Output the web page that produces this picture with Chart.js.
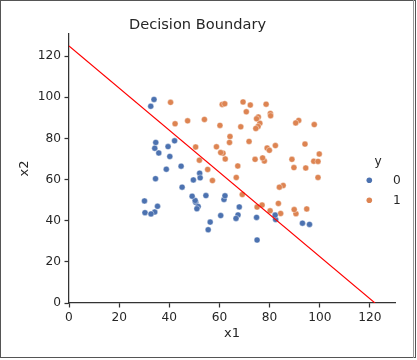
<!DOCTYPE html>
<html>
<head>
<meta charset="utf-8">
<script src="https://cdn.jsdelivr.net/npm/chart.js@4/dist/chart.umd.min.js"></script>
<style>
    html, body { margin: 0; padding: 0; background: #fff; }
    #wrap { position: relative; width: 417px; height: 360px; }
</style>
</head>
<body>
<div id="wrap"><canvas id="boundaryChart" width="417" height="360"></canvas></div>
<script>
// class 0 (not admitted)
const class0X = [34.6, 30.3, 35.8, 45.1, 95.9, 75.0, 39.5, 67.9, 67.4, 50.5,
    34.2, 93.1, 61.8, 38.8, 52.1, 40.2, 54.6, 33.9, 74.8, 34.2,
    51.5, 82.4, 51.0, 62.2, 34.5, 50.3, 49.6, 32.6, 35.3, 56.3,
    30.1, 44.7, 66.6, 49.1, 32.7, 60.5, 82.2, 42.1, 52.3, 55.5];
const class0Y = [78.0, 43.9, 72.9, 56.3, 38.2, 30.6, 76.0, 46.7, 42.8, 48.9,
    44.2, 38.8, 50.3, 65.0, 63.1, 71.2, 52.2, 98.9, 41.6, 75.2,
    46.9, 40.6, 45.8, 52.1, 60.4, 49.8, 59.8, 95.6, 47.0, 39.3,
    49.6, 66.5, 41.1, 51.9, 43.3, 42.5, 42.7, 78.8, 60.8, 35.6];

// class 1 (admitted)
const class1X = [60.2, 79.0, 61.1, 75.0, 76.1, 84.4, 82.3, 69.4, 54.0, 69.1,
    70.7, 77.0, 89.7, 77.9, 62.3, 80.2, 61.4, 85.4, 52.0, 64.2,
    83.9, 94.4, 77.2, 97.8, 62.1, 91.6, 79.9, 99.3, 90.5, 97.6,
    74.2, 71.8, 75.4, 40.5, 80.3, 66.7, 64.0, 72.3, 60.5, 58.8,
    99.8, 47.3, 50.5, 88.9, 94.8, 67.3, 57.2, 80.4, 68.5, 75.5,
    78.6, 94.1, 90.4, 74.5, 89.8, 83.5, 42.3, 99.3, 55.3, 74.8];
const class1Y = [86.3, 75.3, 96.5, 46.6, 87.4, 43.5, 76.5, 97.7, 89.2, 52.7,
    92.9, 47.6, 65.8, 69.0, 70.0, 44.8, 72.8, 57.1, 69.4, 80.9,
    56.3, 65.6, 70.5, 86.7, 96.8, 88.7, 74.2, 61.0, 43.4, 68.9,
    69.8, 78.5, 85.8, 97.5, 92.1, 61.0, 78.0, 96.2, 73.1, 75.9,
    72.4, 88.5, 75.8, 69.8, 45.7, 66.6, 59.5, 91.0, 85.6, 90.4,
    96.6, 77.2, 87.5, 84.8, 45.4, 48.4, 87.1, 68.8, 64.9, 89.5];

// decision boundary end points
const boundaryX = [0, 122.0];
const boundaryY = [124.9, 0];

const classLabels = ['0', '1'];
const legendTitle = 'y';
const xTicks = [0, 20, 40, 60, 80, 100, 120];
const yTicks = [0, 20, 40, 60, 80, 100, 120];

const textColor = '#262626';
const blue = '#4c72b0';
const orange = '#dd8452';

function toPoints(xs, ys) {
    return xs.map((x, i) => ({ x: x, y: ys[i] }));
}

// seaborn-like legend on the right and the figure frame
const sideLegend = {
    id: 'sideLegend',
    afterDraw(chart) {
        const ctx = chart.ctx;
        ctx.save();
        ctx.fillStyle = textColor;
        ctx.font = '12.2px "DejaVu Sans"';
        ctx.textAlign = 'center';
        ctx.textBaseline = 'alphabetic';
        ctx.fillText(legendTitle, 378, 164.5);
        ctx.textAlign = 'left';
        const colors = [blue, orange];
        classLabels.forEach((lab, i) => {
            const y = 180.3 + i * 20;
            ctx.beginPath();
            ctx.arc(369.3, y, 2.8, 0, Math.PI * 2);
            ctx.fillStyle = colors[i];
            ctx.fill();
            ctx.fillStyle = textColor;
            ctx.fillText(lab, 393, y + 3.8);
        });
        // frame
        ctx.strokeStyle = '#555';
        ctx.lineWidth = 1;
        ctx.strokeRect(0.5, 0.5, 415, 357);
        ctx.strokeStyle = '#999';
        ctx.beginPath();
        ctx.moveTo(413.5, 0);
        ctx.lineTo(413.5, 358);
        ctx.stroke();
        ctx.restore();
    }
};

const canvas = document.getElementById('boundaryChart');
new Chart(canvas, {
    type: 'scatter',
    data: {
        datasets: [
            {
                type: 'line',
                label: 'boundary',
                data: toPoints(boundaryX, boundaryY),
                borderColor: '#ff0000',
                borderWidth: 1.1,
                pointRadius: 0,
                fill: false,
                tension: 0
            },
            {
                label: classLabels[0],
                data: toPoints(class0X, class0Y),
                backgroundColor: blue,
                borderColor: '#ffffff',
                borderWidth: 0.4,
                pointRadius: 3
            },
            {
                label: classLabels[1],
                data: toPoints(class1X, class1Y),
                backgroundColor: orange,
                borderColor: '#ffffff',
                borderWidth: 0.4,
                pointRadius: 3
            }
        ]
    },
    options: {
        responsive: false,
        animation: false,
        layout: { padding: { top: 0, left: 0, right: 22, bottom: 0 } },
        plugins: {
            legend: { display: false },
            tooltip: { enabled: false },
            title: {
                display: true,
                text: 'Decision Boundary',
                color: textColor,
                font: { family: 'DejaVu Sans', size: 14.6, weight: 'normal', lineHeight: 1.2 },
                padding: { top: 16.5, bottom: 0 }
            }
        },
        scales: {
            x: {
                type: 'linear',
                min: 0,
                max: 130,
                afterFit(scale) { scale.height = 57; },
                afterBuildTicks(scale) { scale.ticks = xTicks.map(v => ({ value: v })); },
                ticks: {
                    color: textColor,
                    padding: 3,
                    font: { family: 'DejaVu Sans', size: 12.2 },
                    maxRotation: 0
                },
                grid: {
                    drawOnChartArea: false,
                    drawTicks: true,
                    tickLength: 4.5,
                    tickColor: '#333',
                    tickWidth: 1.25
                },
                border: { display: true, color: '#333', width: 1.25 },
                title: {
                    display: true,
                    text: 'x1',
                    color: textColor,
                    font: { family: 'DejaVu Sans', size: 13, lineHeight: 1.2 },
                    padding: { top: 0, bottom: 19 }
                }
            },
            y: {
                type: 'linear',
                min: 0,
                max: 130.7,
                afterFit(scale) { scale.width = 69; },
                afterBuildTicks(scale) { scale.ticks = yTicks.map(v => ({ value: v })); },
                ticks: {
                    color: textColor,
                    padding: 3.5,
                    font: { family: 'DejaVu Sans', size: 12.2 }
                },
                grid: {
                    drawOnChartArea: false,
                    drawTicks: true,
                    tickLength: 4.5,
                    tickColor: '#333',
                    tickWidth: 1.25
                },
                border: { display: true, color: '#333', width: 1.25 },
                title: {
                    display: true,
                    text: 'x2',
                    color: textColor,
                    font: { family: 'DejaVu Sans', size: 13, lineHeight: 1.2 },
                    padding: { top: 17.2, bottom: 0 }
                }
            }
        }
    },
    plugins: [sideLegend]
});
</script>
</body>
</html>
